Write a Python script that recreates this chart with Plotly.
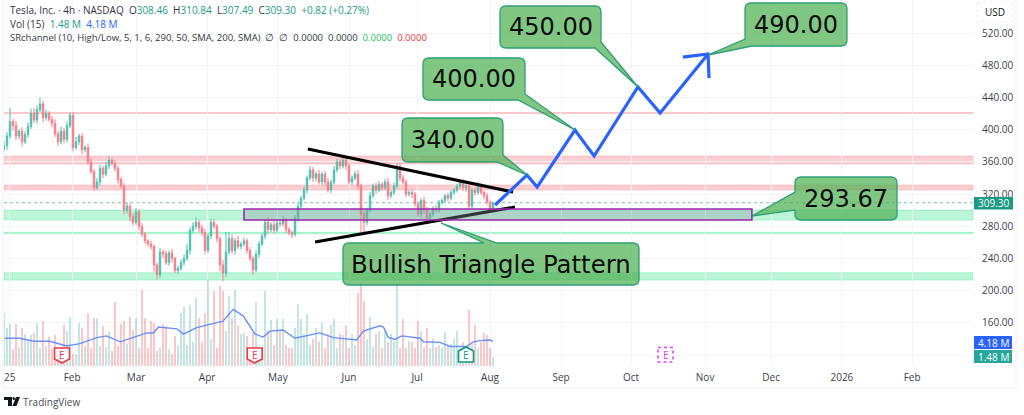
import plotly.graph_objects as go

W, H = 1024, 415
PL, PR, PT, PB = 4, 973, 0, 366

# ---------- data ----------
closes = [
    380, 392, 410, 405, 392, 398, 385, 394, 404, 420,
    412, 425, 432, 415, 420, 413, 408, 395, 385, 398,
    388, 405, 418, 378, 385, 392, 375, 378, 360, 348,
    328, 335, 352, 345, 355, 362, 358, 352, 338, 330,
    300, 305, 292, 285, 298, 280, 270, 262, 258, 255,
    232, 220, 248, 246, 235, 247, 240, 225, 228, 235,
    240, 250, 275, 280, 285, 278, 272, 250, 268, 285,
    280, 265, 232, 222, 248, 265, 250, 262, 255, 258,
    262, 250, 240, 226, 245, 258, 268, 285, 276, 282,
    275, 284, 283, 288, 276, 272, 270, 290, 305, 315,
    325, 340, 350, 340, 345, 335, 345, 335, 325, 335,
    350, 360, 355, 362, 355, 335, 340, 345, 330, 295,
    285, 300, 318, 330, 325, 332, 328, 335, 318, 322,
    330, 355, 340, 335, 320, 322, 320, 308, 295, 312,
    300, 290, 295, 302, 300, 310, 312, 318, 315, 322,
    325, 330, 335, 328, 330, 305, 325, 322, 330, 322,
    318, 310, 300, 309.30,
]
first_open = 376
wick_up = [
    6, 5, 17, 4, 6, 3, 5, 4, 5, 6,
    7, 5, 8, 4, 5, 3, 4, 5, 3, 6,
    4, 5, 3, 4, 6, 3, 4, 3, 5, 4,
    3, 5, 4, 3, 5, 5, 3, 4, 3, 3,
    4, 5, 3, 4, 5, 3, 4, 3, 2, 4,
    2, 3, 5, 3, 4, 3, 5, 2, 3, 4,
    5, 8, 4, 5, 6, 3, 4, 5, 3, 4,
    4, 3, 2, 6, 25, 8, 5, 4, 6, 3,
    4, 3, 4, 3, 5, 4, 3, 4, 6, 3,
    5, 4, 3, 5, 3, 3, 3, 4, 5, 3,
    4, 3, 5, 4, 3, 5, 3, 4, 5, 3,
    5, 4, 3, 4, 3, 4, 3, 4, 5, 3,
    4, 3, 5, 3, 4, 4, 3, 4, 5, 3,
    4, 3, 3, 4, 3, 3, 4, 3, 3, 3,
    5, 4, 3, 3, 4, 3, 3, 2, 4, 3,
    3, 3, 3, 4, 5, 6, 3, 3, 5, 3,
    2, 3, 2, 1.54,
]
wick_down = [
    4, 5, 3, 6, 5, 4, 6, 3, 4, 3,
    4, 5, 3, 6, 4, 3, 5, 4, 5, 3,
    5, 4, 3, 5, 3, 4, 6, 3, 4, 3,
    4, 3, 4, 5, 3, 4, 3, 4, 5, 3,
    5, 4, 6, 4, 3, 5, 3, 4, 3, 4,
    8, 6, 4, 5, 3, 4, 5, 3, 4, 3,
    4, 3, 5, 3, 4, 5, 4, 5, 3, 4,
    3, 5, 8, 10, 5, 3, 4, 5, 3, 4,
    3, 4, 3, 6, 3, 4, 3, 4, 5, 3,
    3, 3, 4, 3, 4, 3, 5, 3, 4, 3,
    3, 4, 3, 5, 4, 3, 4, 5, 3, 4,
    3, 3, 4, 3, 5, 3, 4, 3, 4, 23,
    12, 4, 3, 3, 5, 3, 4, 3, 5, 3,
    3, 3, 4, 3, 4, 3, 5, 4, 3, 4,
    5, 3, 4, 3, 4, 3, 3, 3, 4, 3,
    3, 3, 3, 4, 5, 3, 3, 4, 3, 3,
    4, 3, 4, 1.81,
]
volumes = [
    9.0, 6.5, 7.1, 2.8, 7.1, 3.2, 6.5, 5.4, 4.2, 5.2,
    5.6, 7.3, 3.0, 7.6, 3.4, 4.9, 2.9, 5.2, 3.0, 3.1,
    7.0, 5.9, 8.3, 2.0, 2.0, 7.3, 6.5, 3.4, 8.9, 3.0,
    8.2, 8.2, 3.4, 6.8, 3.2, 5.9, 2.5, 10.9, 3.4, 7.1,
    7.6, 3.8, 8.3, 6.1, 8.2, 3.0, 12.8, 8.2, 3.0, 7.6,
    7.3, 2.6, 3.0, 7.1, 6.8, 2.9, 2.0, 5.0, 3.5, 9.0,
    10.0, 3.5, 10.4, 4.0, 11.5, 8.2, 4.0, 9.0, 14.5, 4.5,
    12.7, 3.0, 13.5, 12.7, 6.0, 11.9, 8.2, 12.9, 7.0, 5.5,
    5.6, 5.0, 3.0, 5.8, 10.9, 2.5, 3.0, 12.7, 6.0, 7.8,
    3.5, 8.0, 6.0, 8.0, 3.5, 3.0, 3.0, 6.5, 10.5, 7.9,
    5.5, 8.8, 3.5, 4.5, 6.5, 4.0, 7.3, 3.0, 5.5, 7.0,
    7.9, 3.0, 5.5, 5.2, 7.0, 3.0, 5.5, 3.5, 12.4, 14.0,
    11.0, 4.5, 8.3, 3.2, 5.5, 6.0, 3.0, 6.0, 4.0, 5.5,
    4.0, 13.8, 3.0, 8.0, 3.0, 4.2, 4.0, 3.0, 7.7, 6.0,
    3.2, 6.5, 3.0, 4.5, 3.3, 3.5, 3.0, 5.8, 3.5, 3.8,
    4.5, 6.0, 3.0, 4.0, 3.4, 9.5, 4.0, 7.0, 3.0, 4.0,
    5.6, 5.3, 3.0, 1.48,
]
vol_ma_x = [0.3, 5.3, 9.8, 15.3, 20.9, 25.3, 30.9, 34.2, 38.7, 43, 47.6, 49.8, 51.5, 57.6, 59.8,
            64.2, 69.8, 73, 76.4, 79.7, 83.7, 86.4, 88.7, 93, 97, 100.9, 105.3, 109.8, 117.6,
            119.8, 125.3, 126.5, 128, 130.3, 132.6, 138.7, 139.8, 145.3, 148.7, 154.2, 156.4,
            158.7, 162, 163]
vol_ma_y = [4.7, 4.7, 4.2, 4.2, 3.4, 3.8, 4.8, 5.1, 4.1, 4.8, 5.6, 5.6, 6.6, 6.3, 5.4,
            6.5, 7.2, 7.6, 9.6, 8.5, 5.4, 4.9, 5.9, 6.1, 4.7, 5.1, 5.6, 4.8, 4.4,
            5.9, 6.8, 6.6, 4.9, 4.5, 5.1, 4.7, 4.1, 4.0, 3.3, 3.3, 4.1,
            4.3, 4.4, 4.18]

month_ticks = [1.9, 22.7, 44, 67.7, 91.3, 115, 137.7, 162, 185.7, 209, 233.7, 255.7, 279.3, 302.7]
month_labels = ["25", "Feb", "Mar", "Apr", "May", "Jun", "Jul", "Aug", "Sep", "Oct", "Nov", "Dec", "2026", "Feb"]
price_ticks = [120, 160, 200, 240, 280, 320, 360, 400, 440, 480, 520]
price_labels = ["", "160.00", "200.00", "240.00", "280.00", "320.00", "360.00", "400.00", "440.00", "480.00", "520.00"]

upper_x, upper_y = [101.3, 169.7], [376, 322.6]
lower_x, lower_y = [103.7, 170.3], [260.6, 304]
proj_x = [163.7, 174.3, 177.7, 190.3, 196.7, 211.3, 218.7, 234.7]
proj_y = [306.5, 343.7, 328.8, 399.6, 367.3, 453, 420.7, 494]
head_x = [226.3, 234.7, 235.0]
head_y = [490, 494, 464]

red_bands = [(420, 421.2), (357.3, 367.3), (325.0, 331.3)]
green_bands = [(287.8, 300.2), (271, 272.6), (213.3, 222.4)]
zone_x = (80, 249.3)
zone_y = (287.9, 301.5)
last_price = 309.30

# ---------- helpers ----------
def px(x):
    return (x - PL) / (PR - PL)
def py(y):
    return 1 - (y - PT) / (PB - PT)
def P(x, y):
    return f"{px(x):.5f},{py(y):.5f}"
def path(points):
    return "M" + " L".join(P(x, y) for x, y in points) + " Z"

FONT = "Open Sans, Liberation Sans, sans-serif"
BIG = "DejaVu Sans"
shapes, annos = [], []

def rect(x0, y0, x1, y1, fill, line="rgba(0,0,0,0)", width=1, layer="above", dash="solid"):
    shapes.append(dict(type="rect", xref="paper", yref="paper", x0=px(x0), x1=px(x1), y0=py(y0), y1=py(y1),
                       fillcolor=fill, line=dict(color=line, width=width, dash=dash), layer=layer))

def text(x, y, s, size=10, color="#131722", anchor="center", family=FONT, yanchor="middle"):
    annos.append(dict(xref="paper", yref="paper", x=px(x), y=py(y), text=s, showarrow=False,
                      xanchor=anchor, yanchor=yanchor, font=dict(size=size, color=color, family=family),
                      borderpad=0, borderwidth=0))

def callout(x0, y0, x1, y1, kind, a, b, tip, label, size=24):
    """Rounded box. kind selects the edge carrying the pointer; a and b are where its base meets the box."""
    r = 6
    d = f"M{P(x0 + r, y0)} "
    if kind == "top":      # a, b are x positions on the top edge
        d += f"L{P(a, y0)} L{P(*tip)} L{P(b, y0)} "
    d += f"L{P(x1 - r, y0)} Q{P(x1, y0)} {P(x1, y0 + r)} "
    if kind == "br":       # a = y on the right edge, b = x on the bottom edge
        d += f"L{P(x1, a)} L{P(*tip)} L{P(b, y1)} "
    else:
        d += f"L{P(x1, y1 - r)} Q{P(x1, y1)} {P(x1 - r, y1)} "
    if kind == "bl":       # a = x on the bottom edge, b = y on the left edge
        d += f"L{P(a, y1)} L{P(*tip)} L{P(x0, b)} "
    else:
        d += f"L{P(x0 + r, y1)} Q{P(x0, y1)} {P(x0, y1 - r)} "
    if kind == "left":     # a, b are y positions on the left edge
        d += f"L{P(x0, b)} L{P(*tip)} L{P(x0, a)} "
    d += f"L{P(x0, y0 + r)} Q{P(x0, y0)} {P(x0 + r, y0)} Z"
    shapes.append(dict(type="path", xref="paper", yref="paper", path=d, fillcolor="rgba(76,175,80,0.70)",
                       line=dict(color="#2e9f76", width=1.3), layer="above"))
    text((x0 + x1) / 2, (y0 + y1) / 2, label, size=size, color="#0c0c0c", family=BIG)

def badge(cx, top, bottom, color, shape="down", dash="solid"):
    w = 7.5
    if shape == "up":
        pts = [(cx, top), (cx + w, top + 4), (cx + w, bottom), (cx - w, bottom), (cx - w, top + 4)]
    elif shape == "down":
        pts = [(cx - w, top), (cx + w, top), (cx + w, bottom - 4), (cx, bottom), (cx - w, bottom - 4)]
    else:
        pts = [(cx - w, top), (cx + w, top), (cx + w, bottom), (cx - w, bottom)]
    shapes.append(dict(type="path", xref="paper", yref="paper", path=path(pts), fillcolor="#ffffff",
                       line=dict(color=color, width=1.6, dash=dash), layer="above"))
    text(cx, (top + bottom) / 2 - (1 if shape == "down" else 0), "E", size=10, color=color)

# ---------- bands & zones ----------
for lo, hi in red_bands:
    shapes.append(dict(type="rect", xref="paper", yref="y2", x0=0, x1=1, y0=lo, y1=hi,
                       fillcolor="rgba(247,82,95,0.28)", line=dict(color="rgba(247,82,95,0.22)", width=1), layer="below"))
for lo, hi in green_bands:
    shapes.append(dict(type="rect", xref="paper", yref="y2", x0=0, x1=1, y0=lo, y1=hi,
                       fillcolor="rgba(34,224,130,0.30)", line=dict(color="rgba(34,224,130,0.30)", width=1), layer="below"))
shapes.append(dict(type="line", xref="paper", yref="y2", x0=0, x1=1, y0=last_price, y1=last_price,
                   line=dict(color="rgba(26,154,132,0.6)", width=1, dash="dot"), layer="below"))
shapes.append(dict(type="rect", xref="x", yref="y2", x0=zone_x[0], x1=zone_x[1], y0=zone_y[0], y1=zone_y[1],
                   fillcolor="rgba(144,153,165,0.35)", line=dict(color="#9c27b0", width=1.6), layer="above"))

# ---------- callouts ----------
callout(402, 118, 503, 162, "br", 155, 497, (527, 175), "340.00")
callout(423, 58, 525, 100, "br", 94, 518, (575, 130), "400.00")
callout(500, 6, 601, 48, "br", 42, 595, (638, 87), "450.00")
callout(745, 3, 847, 46, "bl", 752, 39, (708, 55), "490.00")
callout(795, 177, 897, 220, "left", 192, 210, (752, 216), "293.67")
callout(343, 243, 639, 285, "top", 484, 497, (441, 223), "Bullish Triangle Pattern", size=24.4)

# ---------- earnings badges ----------
badge(62, 348, 363, "#f23645")
badge(254.7, 348, 363, "#f23645")
badge(466, 347, 362, "#089981", shape="up")
badge(665.5, 347.5, 362, "#e040fb", shape="square", dash="dot")

# ---------- price-scale labels ----------
rect(977, 2, 1013, 22, "#ffffff", "#eceef2", 1, dash="dot")
text(995, 12, "USD", size=10, color="#131722")
rect(974, 197, 1013, 209.5, "#1a9a84")
text(993.5, 203.2, "309.30", size=10, color="#ffffff")
rect(974, 336, 1012, 349, "#2962ff")
text(993, 342.5, "4.18 M", size=10, color="#ffffff")
rect(974, 350, 1012, 363, "#26a69a")
text(993, 356.5, "1.48 M", size=10, color="#ffffff")

# ---------- frame ----------
rect(3, -2, 1016, 388, "rgba(0,0,0,0)", "#eff0f3", 1, layer="below")

# ---------- header ----------
G, B, R = "#1a9a84", "#2962ff", "#f23645"
text(10, 10, ("Tesla, Inc. · 4h · NASDAQ  O<span style='color:%s'>308.46</span>  H<span style='color:%s'>310.84</span>"
              "  L<span style='color:%s'>307.49</span>  C<span style='color:%s'>309.30</span>"
              "  <span style='color:%s'>+0.82 (+0.27%%)</span>") % (G, G, G, G, G), anchor="left", color="#333842")
text(10, 24, ("Vol (15)  <span style='color:%s'>1.48 M</span>  <span style='color:%s'>4.18 M</span>") % (G, B),
     anchor="left", color="#333842")
text(10, 37, ("SRchannel (10, High/Low, 5, 1, 6, 290, 50, SMA, 200, SMA)  ∅  ∅  0.0000  0.0000  "
              "<span style='color:%s'>0.0000</span>  <span style='color:%s'>0.0000</span>") % ("#22c55e", R),
     anchor="left", color="#333842", size=9.5)

# ---------- logo ----------
shapes.append(dict(type="path", xref="paper", yref="paper",
                   path=path([(4, 397), (12, 397), (12, 406), (8, 406), (8, 400), (4, 400)]),
                   fillcolor="#131722", line=dict(width=0), layer="above"))
shapes.append(dict(type="circle", xref="paper", yref="paper", x0=px(12.5), x1=px(15), y0=py(400), y1=py(397),
                   fillcolor="#131722", line=dict(width=0), layer="above"))
shapes.append(dict(type="path", xref="paper", yref="paper",
                   path=path([(16, 397), (20, 397), (16.5, 406), (12.5, 406)]),
                   fillcolor="#131722", line=dict(width=0), layer="above"))
text(23, 401.5, "TradingView", size=10, color="#4a4e58", anchor="left")

# ---------- traces ----------
xs = list(range(len(closes)))
opens = [first_open] + closes[:-1]
highs = [max(o, c) + w for o, c, w in zip(opens, closes, wick_up)]
lows = [min(o, c) - w for o, c, w in zip(opens, closes, wick_down)]
vol_colors = ["rgba(38,166,154,0.28)" if c >= o else "rgba(242,54,69,0.28)" for o, c in zip(opens, closes)]

fig = go.Figure()
fig.add_trace(go.Bar(x=xs, y=volumes, marker=dict(color=vol_colors, line=dict(width=0)), width=0.62, yaxis="y"))
fig.add_trace(go.Scatter(x=vol_ma_x, y=vol_ma_y, mode="lines", line=dict(color="#6a8dff", width=1.4), yaxis="y"))
fig.add_trace(go.Candlestick(x=xs, open=opens, high=highs, low=lows, close=closes, yaxis="y2",
                             increasing=dict(line=dict(color="#4fbfb0", width=1), fillcolor="#4fbfb0"),
                             decreasing=dict(line=dict(color="#f87c86", width=1), fillcolor="#f87c86"),
                             whiskerwidth=0))
fig.add_trace(go.Scatter(x=upper_x, y=upper_y, mode="lines", line=dict(color="#000000", width=3), yaxis="y2"))
fig.add_trace(go.Scatter(x=lower_x, y=lower_y, mode="lines", line=dict(color="#000000", width=3), yaxis="y2"))
fig.add_trace(go.Scatter(x=proj_x, y=proj_y, mode="lines", line=dict(color="#2962ff", width=3.2), yaxis="y2"))
fig.add_trace(go.Scatter(x=head_x, y=head_y, mode="lines", line=dict(color="#2962ff", width=3.2), yaxis="y2"))

GRID = "#f3f4f6"
fig.update_layout(
    width=W, height=H, autosize=False, showlegend=False, bargap=0,
    paper_bgcolor="#ffffff", plot_bgcolor="#ffffff",
    margin=dict(l=PL, r=W - PR, t=PT, b=H - PB, pad=0),
    font=dict(family=FONT, size=10, color="#131722"),
    xaxis=dict(range=[0, (PR - PL) / 3], tickvals=month_ticks, ticktext=month_labels, showgrid=True, gridcolor=GRID,
               gridwidth=1, zeroline=False, showline=False, ticks="", tickfont=dict(size=10, color="#3c4048"),
               rangeslider=dict(visible=False), fixedrange=True, ticklabelstandoff=4),
    yaxis=dict(range=[0, 62], visible=False, showgrid=False, zeroline=False, fixedrange=True),
    yaxis2=dict(range=[106.6, 561], overlaying="y", side="right", tickvals=price_ticks, ticktext=price_labels,
                showgrid=True, gridcolor=GRID, zeroline=False, showline=False, ticks="",
                tickfont=dict(size=10, color="#3c4048"), fixedrange=True, ticklabelstandoff=8),
    shapes=shapes, annotations=annos,
)
fig.write_html("out.html", config={"displayModeBar": False},
               post_script="document.body.style.margin='0';document.body.style.overflow='hidden';")
